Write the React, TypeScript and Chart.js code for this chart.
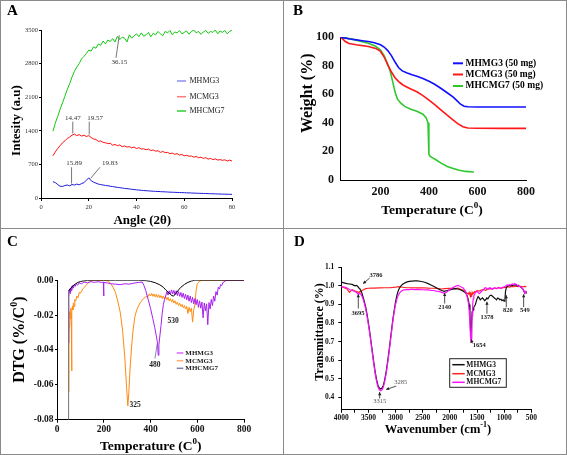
import React, { useEffect, useRef } from 'react';
import { Chart, registerables } from 'chart.js';

Chart.register(...registerables);

const SERIF = "'Liberation Serif', 'Times New Roman', serif";

// ---------------- Panel A : XRD ----------------
const xrdAngles = [5, 6, 7, 8, 9, 10, 11, 12, 13, 14,
  15, 16, 17, 18, 19, 20, 21, 22, 23, 24,
  25, 26, 27, 28, 29, 30, 31, 32, 33, 34,
  35, 36, 37, 38, 39, 40, 41, 42, 43, 44,
  45, 46, 47, 48, 49, 50, 51, 52, 53, 54,
  55, 56, 57, 58, 59, 60, 61, 62, 63, 64,
  65, 66, 67, 68, 69, 70, 71, 72, 73, 74,
  75, 76, 77, 78, 79, 80];
const xrdMHMG3 = [340, 320, 280, 245, 240, 260, 270, 255, 280, 270,
  290, 275, 300, 320, 370, 420, 360, 330, 310, 290,
  280, 270, 262, 255, 245, 238, 230, 222, 215, 208,
  200, 195, 188, 182, 176, 170, 166, 160, 156, 152,
  148, 145, 141, 138, 136, 133, 130, 128, 125, 122,
  120, 118, 116, 114, 112, 110, 108, 106, 104, 102,
  100, 98, 97, 95, 93, 91, 89, 88, 86, 84,
  83, 81, 80, 78, 77, 75];
const xrdMCMG3 = [880, 960, 1030, 1090, 1150, 1190, 1240, 1270, 1310, 1330,
  1300, 1320, 1290, 1310, 1280, 1300, 1260, 1230, 1220, 1180,
  1190, 1160, 1150, 1135, 1140, 1100, 1115, 1090, 1105, 1070,
  1085, 1060, 1070, 1045, 1060, 1030, 1050, 1020, 1025, 1005,
  1020, 990, 1000, 975, 985, 950, 970, 945, 950, 925,
  935, 910, 925, 895, 905, 880, 890, 870, 875, 850,
  865, 840, 850, 825, 840, 810, 825, 800, 815, 790,
  800, 785, 795, 770, 790, 770];
const xrdMHCMG7 = [1390, 1560, 1700, 1850, 1980, 2120, 2260, 2380, 2520, 2640,
  2730, 2800, 2900, 2950, 3010, 3080, 3060, 3150, 3120, 3210,
  3180, 3270, 3210, 3290, 3260, 3320, 3250, 3370, 3300, 3350,
  3330, 3250, 3400, 3330, 3380, 3420, 3360, 3440, 3370, 3400,
  3450, 3360, 3430, 3400, 3470, 3420, 3380, 3470, 3440, 3490,
  3400, 3460, 3440, 3490, 3420, 3450, 3480, 3410, 3470, 3500,
  3440, 3470, 3410, 3460, 3490, 3430, 3470, 3450, 3500, 3420,
  3480, 3450, 3490, 3420, 3470, 3500];
const xrdTicksX = [0, 20, 40, 60, 80];
const xrdTicksY = [0, 700, 1400, 2100, 2800, 3500];
const xrdLabels = [
  { text: '36.15', x: 32.8, y: 2827 },
  { text: '14.47', x: 13.3, y: 1665 },
  { text: '19.57', x: 22.7, y: 1665 },
  { text: '15.89', x: 13.9, y: 723 },
  { text: '19.83', x: 28.9, y: 723 },
];
const xrdLeaders = [
  [32.8, 3390, 31.4, 2920],
  [13.3, 1590, 13.3, 1345],
  [20.2, 1590, 20.2, 1320],
  [12.8, 640, 12.8, 300],
  [24.7, 640, 20.8, 410],
];

// ---------------- Panel B : TGA ----------------
const tgaMHMG3 = [[35, 100], [50, 99.4], [75, 98.6], [100, 98], [125, 97.4], [150, 96.8], [175, 96], [200, 94.6], [215, 93], [230, 90.5], [245, 87], [260, 82.5], [275, 78.5], [290, 76.3], [310, 74.8], [330, 73.6], [350, 72.5], [375, 71], [400, 69], [425, 66.8], [450, 64], [475, 61], [500, 58], [515, 55.5], [530, 53], [545, 51.6], [560, 51.2], [600, 51.1], [700, 51], [800, 51]];
const tgaMCMG3 = [[35, 100], [45, 98.5], [55, 96.8], [70, 95.5], [100, 94.6], [150, 93.4], [180, 92], [200, 89.9], [215, 86], [230, 80.5], [245, 75.5], [260, 71.5], [275, 68.8], [290, 66.8], [300, 65.7], [325, 63.6], [350, 61.7], [375, 59], [400, 55.9], [425, 52.5], [450, 48.9], [475, 45.3], [500, 41.9], [520, 39.2], [540, 37.2], [560, 36.4], [600, 36.2], [700, 36.1], [800, 36.1]];
const tgaMHCMG7 = [[35, 100], [60, 99.2], [100, 97.8], [150, 95.6], [180, 93.5], [200, 90.8], [215, 87], [230, 81], [240, 76], [250, 69], [260, 61.5], [270, 56.5], [285, 53.5], [300, 51.5], [325, 49.5], [350, 48], [375, 46], [388, 43.5], [396, 40], [399, 36], [400, 18], [405, 16.5], [415, 15.5], [430, 14], [450, 11.8], [475, 9.5], [500, 8], [525, 6.8], [550, 6], [585, 5.6]];
const tgaTicksX = [200, 400, 600, 800];
const tgaTicksY = [0, 20, 40, 60, 80, 100];

// ---------------- Panel C : DTG ----------------
const dtgMHMG3 = [[50, -0.036], [50.5, -0.01], [52, -0.007], [54, -0.005], [56, -0.0075], [58, -0.0045], [60, -0.006], [62, -0.0035], [64, -0.0055], [67, -0.003], [70, -0.0045], [74, -0.0025], [78, -0.0035], [82, -0.002], [88, -0.0028], [95, -0.0015], [105, -0.002], [115, -0.001], [130, -0.0014], [145, -0.0008], [160, -0.0012], [175, -0.0008], [190, -0.0012], [198, -0.001], [199.5, -0.009], [201, -0.0012], [215, -0.0015], [230, -0.002], [250, -0.0022], [270, -0.0025], [290, -0.002], [310, -0.0022], [330, -0.0016], [350, -0.0012], [365, -0.001], [372, -0.003], [380, -0.006], [390, -0.011], [400, -0.016], [410, -0.022], [418, -0.027], [425, -0.032], [430, -0.036], [433, -0.043], [436, -0.037], [440, -0.032], [445, -0.026], [450, -0.019], [455, -0.014], [460, -0.011],
  [465, -0.009], [470, -0.0065], [475, -0.0085], [480, -0.006], [485, -0.008], [490, -0.0055], [495, -0.0078], [500, -0.0058], [505, -0.0082], [510, -0.006], [515, -0.0088], [520, -0.0065], [525, -0.0092], [530, -0.007], [535, -0.0098], [540, -0.0074], [545, -0.0105], [550, -0.008], [555, -0.0112], [560, -0.0085], [565, -0.012], [570, -0.009], [575, -0.0128], [580, -0.0098], [585, -0.0135], [590, -0.0105], [595, -0.014], [600, -0.011], [605, -0.0155], [610, -0.0118], [615, -0.016], [620, -0.0125], [625, -0.0215], [630, -0.013], [635, -0.0175], [640, -0.0135], [645, -0.0255], [650, -0.0128], [655, -0.0165], [660, -0.011], [665, -0.0145], [670, -0.009], [675, -0.012], [680, -0.0065], [685, -0.0085], [690, -0.004], [695, -0.005], [700, -0.0025], [705, -0.003], [710, -0.0012], [715, -0.001], [720, -0.0003], [730, 0], [760, 0], [800, 0]];
const dtgMCMG3 = [[50, -0.064], [51, -0.03], [53, -0.026], [55, -0.018], [57, -0.022], [59, -0.016], [61, -0.02], [62.5, -0.052], [64, -0.018], [66, -0.015], [68, -0.017], [70, -0.013], [73, -0.015], [76, -0.011], [80, -0.012], [85, -0.009], [90, -0.01], [95, -0.007], [100, -0.0075], [110, -0.005], [120, -0.0035], [130, -0.002], [140, -0.0008], [150, 0], [175, 0], [200, 0], [210, -0.0002], [220, -0.0005], [230, -0.002], [240, -0.004], [250, -0.007], [260, -0.012], [270, -0.018], [280, -0.028], [290, -0.044], [297, -0.06], [303, -0.072], [307, -0.065], [312, -0.052], [318, -0.04], [325, -0.029], [333, -0.021], [341, -0.017], [355, -0.013], [370, -0.0105], [385, -0.009],
  [390, -0.0093], [395, -0.0078], [400, -0.009], [405, -0.0075], [410, -0.0092], [415, -0.0078], [420, -0.0095], [425, -0.008], [430, -0.0098], [435, -0.0083], [440, -0.01], [445, -0.0088], [450, -0.0105], [455, -0.009], [460, -0.0108], [465, -0.0095], [470, -0.0112], [475, -0.0098], [480, -0.0118], [485, -0.0105], [490, -0.0125], [495, -0.011], [500, -0.013], [505, -0.0118], [510, -0.0138], [515, -0.0125], [520, -0.0145], [525, -0.0132], [530, -0.015], [535, -0.0138], [540, -0.0158], [545, -0.0145], [550, -0.0165], [555, -0.015], [560, -0.019], [565, -0.0155], [570, -0.018], [575, -0.016], [580, -0.024], [585, -0.017], [590, -0.014], [595, -0.006], [600, -0.002], [610, -0.0005], [620, 0], [700, 0], [800, 0]];
const dtgMHCMG7 = [[49.5, -0.08], [49.6, -0.006], [52, -0.0055], [55, -0.005], [60, -0.0042], [65, -0.0038], [70, -0.003], [80, -0.002], [90, -0.0012], [100, -0.0007], [115, -0.0003], [130, -0.0001], [150, 0], [200, 0], [250, 0], [300, 0], [350, 0], [380, -0.0002], [400, -0.0006], [420, -0.0014], [440, -0.0026], [455, -0.004], [465, -0.0055], [475, -0.0068], [485, -0.008], [492, -0.0088], [498, -0.009], [505, -0.0082], [512, -0.007], [520, -0.0055], [530, -0.004], [545, -0.0024], [560, -0.0012], [575, -0.0004], [590, 0], [650, 0], [800, 0]];
const dtgTicksX = [0, 200, 400, 600, 800];
const dtgTicksY = [-0.08, -0.06, -0.04, -0.02, 0];
const dtgLabels = [
  { text: '325', x: 334, y: -0.0715 },
  { text: '480', x: 419, y: -0.0487 },
  { text: '530', x: 497, y: -0.0235 },
];
const dtgLeaders = [[419, -0.0449, 429, -0.0362]];

// ---------------- Panel D : FTIR ----------------
const ftirMHMG3 = [[4000, 1.02], [3950, 1.016], [3900, 1.012], [3850, 1.01], [3800, 1.008], [3750, 1.0], [3720, 1.003], [3700, 0.998], [3680, 0.99], [3660, 0.985], [3640, 0.975], [3620, 0.96], [3600, 0.94], [3575, 0.915], [3550, 0.885], [3525, 0.845], [3500, 0.8], [3475, 0.75], [3450, 0.695], [3425, 0.64], [3400, 0.585], [3375, 0.535], [3350, 0.495], [3325, 0.465], [3300, 0.45], [3275, 0.445], [3250, 0.45], [3225, 0.465], [3200, 0.495], [3175, 0.535], [3150, 0.585], [3125, 0.64], [3100, 0.7], [3075, 0.76], [3050, 0.82], [3025, 0.87], [3000, 0.915], [2975, 0.95], [2950, 0.975], [2925, 0.99], [2900, 1.0], [2875, 1.008], [2850, 1.013], [2800, 1.02], [2750, 1.024], [2700, 1.026], [2650, 1.027], [2600, 1.027], [2550, 1.025], [2500, 1.022], [2450, 1.018], [2400, 1.012], [2350, 1.005], [2300, 0.998], [2250, 0.99], [2200, 0.982], [2150, 0.975], [2100, 0.97], [2050, 0.975], [2000, 0.978], [1950, 0.982], [1900, 0.985], [1850, 0.983], [1800, 0.978], [1760, 0.972], [1720, 0.965], [1700, 0.958], [1680, 0.945], [1660, 0.925], [1645, 0.9], [1630, 0.84], [1620, 0.76], [1610, 0.72], [1600, 0.8], [1590, 0.86], [1580, 0.875], [1570, 0.87], [1560, 0.885], [1545, 0.89], [1530, 0.9], [1515, 0.915], [1500, 0.93], [1480, 0.942], [1460, 0.935], [1440, 0.925], [1420, 0.93], [1400, 0.935], [1380, 0.928], [1360, 0.92], [1340, 0.925], [1320, 0.935], [1300, 0.93], [1280, 0.94], [1260, 0.948], [1240, 0.95], [1220, 0.945], [1200, 0.94], [1180, 0.935], [1160, 0.93], [1140, 0.925], [1120, 0.935], [1100, 0.932], [1080, 0.925], [1060, 0.928], [1040, 0.92], [1020, 0.925], [1000, 0.918], [985, 0.93], [975, 0.97], [960, 0.99], [940, 0.998], [920, 1.0], [900, 1.002], [880, 1.0], [860, 1.004], [840, 1.002], [820, 1.006], [800, 1.003], [780, 1.007], [760, 1.0], [740, 1.003], [720, 0.998], [700, 0.995], [680, 0.99], [660, 0.985], [640, 0.975], [620, 0.962], [600, 0.968], [590, 0.958]];
const ftirMCMG3 = [[4000, 0.996], [3950, 0.99], [3900, 0.985], [3850, 0.965], [3800, 0.98], [3750, 0.972], [3700, 0.968], [3680, 0.962], [3660, 0.97], [3640, 0.968], [3620, 0.975], [3600, 0.978], [3575, 0.982], [3550, 0.985], [3500, 0.987], [3450, 0.988], [3400, 0.988], [3300, 0.989], [3200, 0.99], [3100, 0.99], [3000, 0.993], [2950, 0.996], [2900, 0.994], [2800, 0.99], [2700, 0.99], [2600, 0.989], [2500, 0.99], [2400, 0.988], [2300, 0.987], [2200, 0.985], [2150, 0.983], [2100, 0.985], [2000, 0.987], [1900, 0.985], [1850, 0.988], [1800, 0.982], [1760, 0.978], [1720, 0.972], [1700, 0.965], [1680, 0.96], [1660, 0.955], [1645, 0.965], [1630, 0.95], [1620, 0.945], [1610, 0.96], [1600, 0.94], [1590, 0.955], [1580, 0.965], [1560, 0.96], [1545, 0.97], [1530, 0.968], [1500, 0.975], [1460, 0.972], [1420, 0.978], [1380, 0.98], [1340, 0.976], [1300, 0.982], [1260, 0.985], [1220, 0.983], [1180, 0.988], [1140, 0.986], [1100, 0.99], [1060, 0.988], [1020, 0.99], [980, 0.992], [940, 0.995], [900, 0.993], [860, 0.997], [820, 0.995], [780, 0.998], [740, 0.996], [700, 0.998], [660, 0.995], [620, 0.997], [590, 0.995]];
const ftirMHCMG7 = [[4000, 0.996], [3950, 0.993], [3900, 0.99], [3850, 0.98], [3800, 0.975], [3750, 0.97], [3720, 0.965], [3700, 0.958], [3680, 0.955], [3660, 0.96], [3640, 0.955], [3620, 0.945], [3600, 0.93], [3575, 0.905], [3550, 0.875], [3525, 0.835], [3500, 0.79], [3475, 0.74], [3450, 0.685], [3425, 0.63], [3400, 0.575], [3375, 0.525], [3350, 0.485], [3325, 0.455], [3300, 0.44], [3275, 0.435], [3250, 0.44], [3225, 0.455], [3200, 0.485], [3175, 0.525], [3150, 0.575], [3125, 0.63], [3100, 0.69], [3075, 0.75], [3050, 0.81], [3025, 0.86], [3000, 0.9], [2975, 0.93], [2950, 0.95], [2925, 0.962], [2900, 0.97], [2875, 0.975], [2850, 0.978], [2800, 0.98], [2750, 0.98], [2700, 0.982], [2650, 0.98], [2600, 0.981], [2550, 0.98], [2500, 0.979], [2450, 0.978], [2400, 0.978], [2350, 0.976], [2300, 0.975], [2250, 0.972], [2200, 0.97], [2150, 0.965], [2100, 0.96], [2050, 0.968], [2000, 0.98], [1950, 0.99], [1900, 0.997], [1850, 1.003], [1800, 0.995], [1760, 0.99], [1720, 0.975], [1700, 0.96], [1680, 0.94], [1660, 0.91], [1645, 0.87], [1630, 0.8], [1620, 0.73], [1610, 0.695], [1600, 0.74], [1590, 0.84], [1580, 0.9], [1570, 0.93], [1560, 0.945], [1545, 0.955], [1530, 0.962], [1515, 0.968], [1500, 0.97], [1480, 0.965], [1460, 0.958], [1440, 0.962], [1420, 0.97], [1400, 0.975], [1380, 0.98], [1360, 0.988], [1340, 0.99], [1320, 0.985], [1300, 0.982], [1280, 0.988], [1260, 0.99], [1240, 0.986], [1220, 0.982], [1200, 0.985], [1180, 0.99], [1160, 0.988], [1140, 0.984], [1120, 0.99], [1100, 0.992], [1080, 0.988], [1060, 0.985], [1040, 0.99], [1020, 0.993], [1000, 0.995], [980, 0.998], [960, 1.002], [940, 1.005], [920, 1.003], [900, 1.006], [880, 1.004], [860, 1.008], [840, 1.01], [820, 1.006], [800, 1.012], [780, 1.008], [760, 1.004], [740, 1.0], [720, 0.997], [700, 0.995], [680, 0.99], [660, 0.985], [640, 0.975], [620, 0.96], [600, 0.97], [590, 0.965]];
const ftirTicksX = [4000, 3750, 3500, 3250, 3000, 2750, 2500, 2250, 2000, 1750, 1500, 1250, 1000, 750, 500];
const ftirTicksY = [0.4, 0.5, 0.6, 0.7, 0.8, 0.9, 1.0, 1.1];
const ftirLabels = [
  { text: '3786', x: 3361, y: 1.055 },
  { text: '3695', x: 3694, y: 0.852 },
  { text: '2140', x: 2096, y: 0.884 },
  { text: '1654', x: 1459, y: 0.68 },
  { text: '1378', x: 1317, y: 0.828 },
  { text: '820', x: 930, y: 0.866 },
  { text: '549', x: 617, y: 0.866 },
  { text: '3285', x: 2906, y: 0.482, color: '#555', weight: 'normal' },
  { text: '3315', x: 3293, y: 0.376, color: '#555', weight: 'normal' },
];
const ftirArrows = [
  [3477, 1.042, 3600, 1.012],
  [3687, 0.878, 3687, 0.955],
  [2096, 0.905, 2096, 0.962],
  [1585, 0.69, 1608, 0.712],
  [1317, 0.85, 1317, 0.915],
  [961, 0.885, 961, 0.95],
  [641, 0.885, 641, 0.955],
  [2990, 0.46, 3175, 0.442],
  [3293, 0.393, 3293, 0.428],
];

// ---------------- helpers ----------------
const pts = (arr: number[][]) => arr.map(([x, y]) => ({ x, y }));

function drawRich(ctx: CanvasRenderingContext2D, spec: any) {
  const base = `bold ${spec.size}px ${SERIF}`;
  const supF = `bold ${Math.round(spec.size * 0.65)}px ${SERIF}`;
  ctx.save();
  ctx.translate(spec.x, spec.y);
  if (spec.vertical) ctx.rotate(-Math.PI / 2);
  ctx.textBaseline = 'middle';
  ctx.textAlign = 'left';
  ctx.fillStyle = '#000';
  let total = 0;
  const widths = spec.parts.map((p: any) => {
    ctx.font = p.sup ? supF : base;
    const w = ctx.measureText(p.t).width;
    total += w;
    return w;
  });
  let cx = -total / 2;
  spec.parts.forEach((p: any, i: number) => {
    ctx.font = p.sup ? supF : base;
    ctx.fillText(p.t, cx, p.sup ? -spec.size * 0.36 : 0);
    cx += widths[i];
  });
  ctx.restore();
}

function drawSeg(ctx: CanvasRenderingContext2D, x1: number, y1: number, x2: number, y2: number, color: string, head: boolean) {
  ctx.strokeStyle = color;
  ctx.lineWidth = 0.8;
  ctx.beginPath();
  ctx.moveTo(x1, y1);
  ctx.lineTo(x2, y2);
  ctx.stroke();
  if (head) {
    const a = Math.atan2(y2 - y1, x2 - x1);
    const L = 3.5;
    ctx.fillStyle = color;
    ctx.beginPath();
    ctx.moveTo(x2, y2);
    ctx.lineTo(x2 - L * Math.cos(a - 0.5), y2 - L * Math.sin(a - 0.5));
    ctx.lineTo(x2 - L * Math.cos(a + 0.5), y2 - L * Math.sin(a + 0.5));
    ctx.closePath();
    ctx.fill();
  }
}

function decoPlugin(d: any) {
  return {
    id: 'deco',
    afterDraw(chart: any) {
      const ctx = chart.ctx as CanvasRenderingContext2D;
      const xs = chart.scales.x;
      const ys = chart.scales.y;
      ctx.save();
      (d.leaders || []).forEach((s: number[]) => {
        drawSeg(ctx, xs.getPixelForValue(s[0]), ys.getPixelForValue(s[1]), xs.getPixelForValue(s[2]), ys.getPixelForValue(s[3]), d.leaderColor, !!d.heads);
      });
      ctx.textAlign = 'center';
      ctx.textBaseline = 'middle';
      (d.labels || []).forEach((l: any) => {
        ctx.font = `${l.weight || d.labelWeight} ${d.labelSize}px ${SERIF}`;
        ctx.fillStyle = l.color || d.labelColor;
        ctx.fillText(l.text, xs.getPixelForValue(l.x), ys.getPixelForValue(l.y));
      });
      const L = d.legend;
      if (L) {
        if (L.box) {
          ctx.strokeStyle = '#222';
          ctx.lineWidth = 1;
          ctx.strokeRect(L.box[0], L.box[1], L.box[2], L.box[3]);
        }
        ctx.font = L.font;
        ctx.textAlign = 'left';
        ctx.textBaseline = 'middle';
        L.items.forEach((it: any, i: number) => {
          const y = L.rows[i];
          ctx.strokeStyle = it.color;
          ctx.lineWidth = L.lineWidth;
          ctx.beginPath();
          ctx.moveTo(L.x1, y);
          ctx.lineTo(L.x2, y);
          ctx.stroke();
          ctx.fillStyle = L.textColor || '#000';
          ctx.fillText(it.label, L.tx, y);
        });
      }
      (d.titles || []).forEach((t: any) => drawRich(ctx, t));
      ctx.restore();
    },
  };
}

function linScale(o: any) {
  return {
    type: 'linear',
    min: o.min,
    max: o.max,
    reverse: !!o.reverse,
    afterBuildTicks: (s: any) => { s.ticks = o.ticks.map((v: number) => ({ value: v })); },
    afterFit: o.fit,
    ticks: {
      font: o.font,
      color: o.color || '#111',
      padding: o.pad,
      autoSkip: false,
      maxRotation: 0,
      minRotation: 0,
      callback: (v: any) => (o.fmt ? o.fmt(Number(v)) : String(v)),
    },
    grid: { drawOnChartArea: false, drawTicks: o.tickLen > 0, tickLength: o.tickLen, color: '#000', tickColor: '#000' },
    border: { display: true, color: '#000', width: 1 },
    title: { display: false },
  };
}

function line(label: string, data: any[], color: string, width: number, extra: any = {}) {
  return { label, data, borderColor: color, backgroundColor: color, borderWidth: width, pointRadius: 0, tension: 0, fill: false, ...extra };
}

function baseOptions(padding: any, scales: any) {
  return {
    animation: false,
    responsive: false,
    maintainAspectRatio: false,
    layout: { padding },
    plugins: { legend: { display: false }, tooltip: { enabled: false } },
    events: [],
    scales,
  };
}

// ---------------- chart builders ----------------
function buildA() {
  const xy = (vals: number[]) => xrdAngles.map((a, i) => ({ x: a, y: vals[i] }));
  const tickFont = { family: SERIF, size: 6.5 };
  return {
    type: 'line',
    data: {
      datasets: [
        line('MHMG3', xy(xrdMHMG3), '#1a1ad8', 1),
        line('MCMG3', xy(xrdMCMG3), '#ff1010', 1),
        line('MHCMG7', xy(xrdMHCMG7), '#10c810', 1),
      ],
    },
    options: baseOptions({ left: 0, top: 30, right: 51, bottom: 0 }, {
      x: linScale({ min: 0, max: 80, ticks: xrdTicksX, fit: (s: any) => { s.height = 30; }, font: tickFont, pad: 2, tickLen: 3, color: '#333' }),
      y: linScale({ min: 0, max: 3500, ticks: xrdTicksY, fit: (s: any) => { s.width = 41; }, font: tickFont, pad: 1, tickLen: 2, color: '#333' }),
    }),
    plugins: [decoPlugin({
      labels: xrdLabels, labelSize: 7, labelWeight: 'normal', labelColor: '#333',
      leaders: xrdLeaders, leaderColor: '#555', heads: false,
      legend: {
        items: [{ label: 'MHMG3', color: '#8c8cf0' }, { label: 'MCMG3', color: '#ff7c7c' }, { label: 'MHCMG7', color: '#30cc30' }],
        x1: 177, x2: 186, tx: 189.5, rows: [81, 96.7, 111], font: `8px ${SERIF}`, lineWidth: 1.5, textColor: '#222',
      },
      titles: [
        { parts: [{ t: 'Angle (2θ)' }], x: 142.3, y: 220.5, size: 13 },
        { parts: [{ t: 'Intesity (a.u)' }], x: 16.5, y: 120.5, size: 13, vertical: true },
      ],
    })],
  };
}

function buildB() {
  const tickFont = { family: SERIF, size: 12, weight: 'bold' };
  return {
    type: 'line',
    data: {
      datasets: [
        line('MHMG3 (50 mg)', pts(tgaMHMG3), '#1010ff', 1.6),
        line('MCMG3 (50 mg)', pts(tgaMCMG3), '#ff1818', 1.6),
        line('MHCMG7 (50 mg)', pts(tgaMHCMG7), '#2ec82e', 1.6),
      ],
    },
    options: baseOptions({ left: 0, top: 37, right: 41, bottom: 0 }, {
      x: linScale({ min: 33, max: 800, ticks: tgaTicksX, fit: (s: any) => { s.height = 48; }, font: tickFont, pad: 4.5, tickLen: 0 }),
      y: linScale({ min: 0, max: 100, ticks: tgaTicksY, fit: (s: any) => { s.width = 57; }, font: tickFont, pad: 6, tickLen: 0 }),
    }),
    plugins: [decoPlugin({
      legend: {
        items: [{ label: 'MHMG3 (50 mg)', color: '#1010ff' }, { label: 'MCMG3 (50 mg)', color: '#ff1818' }, { label: 'MHCMG7 (50 mg)', color: '#2ec82e' }],
        x1: 170, x2: 180, tx: 182.5, rows: [63.3, 74.5, 86], font: `bold 9.5px ${SERIF}`, lineWidth: 2,
      },
      titles: [
        { parts: [{ t: 'Temperature (C' }, { t: '0', sup: true }, { t: ')' }], x: 149, y: 211, size: 13.5 },
        { parts: [{ t: 'Weight (%)' }], x: 25, y: 93.3, size: 16, vertical: true },
      ],
    })],
  };
}

function buildC() {
  const tickFont = { family: SERIF, size: 9.5, weight: 'bold' };
  return {
    type: 'line',
    data: {
      datasets: [
        line('MHCMG7', pts(dtgMHCMG7), '#000000', 1, { segment: { borderColor: (c: any) => (c.p0DataIndex === 0 ? '#777' : undefined) } }),
        line('MHMG3', pts(dtgMHMG3), '#a820ee', 1),
        line('MCMG3', pts(dtgMCMG3), '#ff8a10', 1),
      ],
    },
    options: baseOptions({ left: 0, top: 52.3, right: 39, bottom: 0 }, {
      x: linScale({ min: 0, max: 800, ticks: dtgTicksX, fit: (s: any) => { s.height = 35.3; }, font: tickFont, pad: 1, tickLen: 3 }),
      y: linScale({ min: -0.08, max: 0, ticks: dtgTicksY, fit: (s: any) => { s.width = 57; }, font: tickFont, pad: 1.5, tickLen: 2, fmt: (v: number) => v.toFixed(2) }),
    }),
    plugins: [decoPlugin({
      labels: dtgLabels, labelSize: 7.5, labelWeight: 'bold', labelColor: '#222',
      leaders: dtgLeaders, leaderColor: '#6a6a9a', heads: false,
      legend: {
        items: [{ label: 'MHMG3', color: '#dd66ff' }, { label: 'MCMG3', color: '#ffb070' }, { label: 'MHCMG7', color: '#8080b0' }],
        x1: 176.7, x2: 183.3, tx: 185.3, rows: [125, 132.7, 140.3], font: `bold 7px ${SERIF}`, lineWidth: 1.5, textColor: '#222',
      },
      titles: [
        { parts: [{ t: 'Temperature (C' }, { t: '0', sup: true }, { t: ')' }], x: 150.7, y: 218.3, size: 13.5 },
        { parts: [{ t: 'DTG (%/C' }, { t: '0', sup: true }, { t: ')' }], x: 20, y: 111.7, size: 16, vertical: true },
      ],
    })],
  };
}

function buildD() {
  const tickFont = { family: SERIF, size: 7.5, weight: 'bold' };
  return {
    type: 'line',
    data: {
      datasets: [
        line('MHCMG7', pts(ftirMHCMG7), '#ff10ff', 1.2),
        line('MHMG3', pts(ftirMHMG3), '#111111', 1.2),
        line('MCMG3', pts(ftirMCMG3), '#ff2020', 1.1),
      ],
    },
    options: baseOptions({ left: 0, top: 39.3, right: 35.7, bottom: 0 }, {
      x: linScale({ min: 500, max: 4000, reverse: true, ticks: ftirTicksX, fit: (s: any) => { s.height = 45.3; }, font: tickFont, pad: 0.5, tickLen: 3, fmt: (v: number) => (v % 500 === 0 ? String(v) : '') }),
      y: linScale({ min: 0.333, max: 1.1, ticks: ftirTicksY, fit: (s: any) => { s.width = 58.3; }, font: tickFont, pad: 4, tickLen: 3, fmt: (v: number) => v.toFixed(1) }),
    }),
    plugins: [decoPlugin({
      labels: ftirLabels, labelSize: 6.5, labelWeight: 'bold', labelColor: '#222',
      leaders: ftirArrows, leaderColor: '#222', heads: true,
      legend: {
        box: [166.7, 130.7, 56.6, 28.6],
        items: [{ label: 'MHMG3', color: '#111' }, { label: 'MCMG3', color: '#ff2020' }, { label: 'MHCMG7', color: '#ff10ff' }],
        x1: 169.3, x2: 181.7, tx: 183.3, rows: [136.7, 145.7, 154.3], font: `bold 7.5px ${SERIF}`, lineWidth: 1.5, textColor: '#111',
      },
      titles: [
        { parts: [{ t: 'Wavenumber (cm' }, { t: '-1', sup: true }, { t: ')' }], x: 155, y: 201.7, size: 12.5 },
        { parts: [{ t: 'Transmittance (%)' }], x: 36.7, y: 104, size: 12, vertical: true },
      ],
    })],
  };
}

function Panel({ left, top, width, height, build }: any) {
  const ref = useRef<HTMLCanvasElement>(null);
  useEffect(() => {
    const chart = new Chart(ref.current as HTMLCanvasElement, build());
    return () => chart.destroy();
  }, []);
  return (
    <canvas
      ref={ref}
      width={width}
      height={height}
      style={{ position: 'absolute', left, top, width, height, display: 'block' }}
    />
  );
}

const letterStyle = (left: number, top: number): React.CSSProperties => ({
  position: 'absolute', left, top, font: `bold 15px ${SERIF}`, lineHeight: '15px', color: '#000',
});

export default function App() {
  return (
    <div style={{ position: 'fixed', left: 0, top: 0, width: 567, height: 455, background: '#fff', overflow: 'hidden' }}>
      <Panel left={0} top={0} width={283} height={228} build={buildA} />
      <Panel left={283} top={0} width={284} height={228} build={buildB} />
      <Panel left={0} top={228} width={283} height={227} build={buildC} />
      <Panel left={283} top={228} width={284} height={227} build={buildD} />
      <div style={{ position: 'absolute', left: 0, top: 0, width: 567, height: 455, border: '1px solid #8a8a8a', boxSizing: 'border-box', pointerEvents: 'none' }} />
      <div style={{ position: 'absolute', left: 283, top: 0, width: 1, height: 455, background: '#8a8a8a' }} />
      <div style={{ position: 'absolute', left: 0, top: 228, width: 567, height: 1, background: '#8a8a8a' }} />
      <div style={letterStyle(7, 3)}>A</div>
      <div style={letterStyle(293, 3)}>B</div>
      <div style={letterStyle(7, 234)}>C</div>
      <div style={letterStyle(294, 234)}>D</div>
    </div>
  );
}
